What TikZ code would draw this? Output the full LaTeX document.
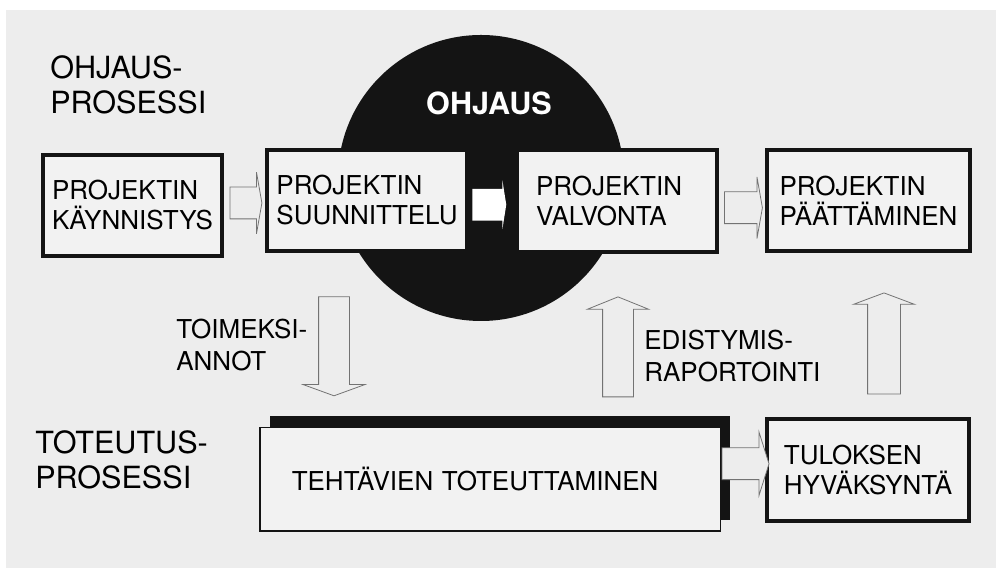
\documentclass[tikz,border=0pt]{standalone}
\usepackage{fontspec}
\setmainfont{TeX Gyre Heros}
\usetikzlibrary{shapes.arrows,shadows,calc}

\definecolor{paper}{gray}{0.93}
\definecolor{boxfill}{gray}{0.95}
\definecolor{ink}{gray}{0.08}

\begin{document}
\begin{tikzpicture}[
		procbox/.style={rectangle, draw=ink, line width=2.3pt, fill=boxfill, align=left, inner sep=0pt,
			minimum height=2.02cm, font=\fontsize{14.8}{17.1}\selectfont},
		blockarrow/.style={single arrow, draw=black!55, fill=paper, line width=0.45pt, inner xsep=0pt, inner ysep=0.31cm},
		heading/.style={anchor=north west, align=left, inner sep=0pt, font=\fontsize{17.4}{19.9}\selectfont},
		sidelabel/.style={anchor=north west, align=left, inner sep=0pt, font=\fontsize{14.8}{17.9}\selectfont}
	]
  \useasboundingbox (0,0) rectangle (19.92,11.38);
  \fill[paper] (0.12,0.02) rectangle (19.92,11.18);
  \fill[ink] (9.62,7.82) circle (2.86cm);
  \node (ohjaus) [anchor=north, inner sep=0pt, text=white, font=\fontsize{17.4}{19.9}\selectfont\bfseries] at (9.78,9.54) {OHJAUS};
  % process headings
  \node (ohjausprosessi) [heading] at (1.0,10.28) {OHJAUS-\\PROSESSI};
  \node (toteutusprosessi) [heading] at (0.7,2.78) {TOTEUTUS-\\PROSESSI};
  % boxes
  \node (kaynnistys) [procbox, minimum width=3.58cm] at (2.65,7.27) {PROJEKTIN\\KÄYNNISTYS};
  \node (suunnittelu) [procbox, minimum width=4.0cm] at (7.34,7.37) {PROJEKTIN\\SUUNNITTELU};
  \node (valvonta) [procbox, minimum width=4.0cm, minimum height=2.04cm, text width=3.24cm, inner xsep=0.38cm] at (12.34,7.36) {PROJEKTIN\\VALVONTA};
  \node (paattaminen) [procbox, minimum width=4.06cm] at (17.37,7.37) {PROJEKTIN\\PÄÄTTÄMINEN};
  \node (tehtavat) [procbox, line width=0.85pt, minimum width=9.21cm, minimum height=2.07cm, text width=7.93cm, inner xsep=0.64cm,
    drop shadow={shadow xshift=0.2cm, shadow yshift=0.23cm, fill=ink, opacity=1}] at (9.8,1.79) {TEHTÄVIEN TOTEUTTAMINEN};
  \node (hyvaksynta) [procbox, minimum width=4.04cm, minimum height=2.04cm] at (17.36,1.98) {TULOKSEN\\HYVÄKSYNTÄ};
  % block arrows
  \node (k2s) [blockarrow, minimum height=0.64cm, minimum width=1.2cm, single arrow head extend=0.3cm, single arrow tip angle=160]
    at ($(kaynnistys.east)!0.5!(suunnittelu.west)$) {};
  \node (s2v) [blockarrow, draw=none, fill=white, minimum height=0.68cm, minimum width=0.96cm, single arrow head extend=0.17cm, single arrow tip angle=162]
    at ([xshift=-0.08cm, yshift=-0.08cm]$(suunnittelu.east)!0.5!(valvonta.west)$) {};
  \node (v2p) [blockarrow, minimum height=0.76cm, minimum width=1.2cm, single arrow head extend=0.3cm, single arrow tip angle=160]
    at ([yshift=-0.14cm]$(valvonta.east)!0.5!(paattaminen.west)$) {};
  \node (t2h) [blockarrow, minimum height=0.94cm, minimum width=1.26cm, single arrow head extend=0.32cm, single arrow tip angle=145]
    at ([yshift=0.22cm]$(tehtavat.east)!0.5!(hyvaksynta.west)$) {};
  \node (toimeksi) [blockarrow, rotate=-90, inner ysep=0.3cm, minimum height=1.98cm, minimum width=1.22cm, single arrow head extend=0.31cm, single arrow tip angle=140]
    at (6.68,4.51) {};
  \node (raportti) [blockarrow, rotate=90, inner ysep=0.3cm, minimum height=2.0cm, minimum width=1.2cm, single arrow head extend=0.3cm, single arrow tip angle=136]
    at (12.36,4.38) {};
  \node (hyvaksytty) [blockarrow, rotate=90, inner ysep=0.32cm, minimum height=2.02cm, minimum width=1.2cm, single arrow head extend=0.28cm, single arrow tip angle=139]
    at (17.68,4.45) {};
  % arrow labels
  \node (toimeksiannot) [sidelabel] at (3.52,5.0) {TOIMEKSI-\\ANNOT};
  \node (edistymis) [sidelabel] at (12.88,4.78) {EDISTYMIS-\\RAPORTOINTI};
\end{tikzpicture}
\end{document}
